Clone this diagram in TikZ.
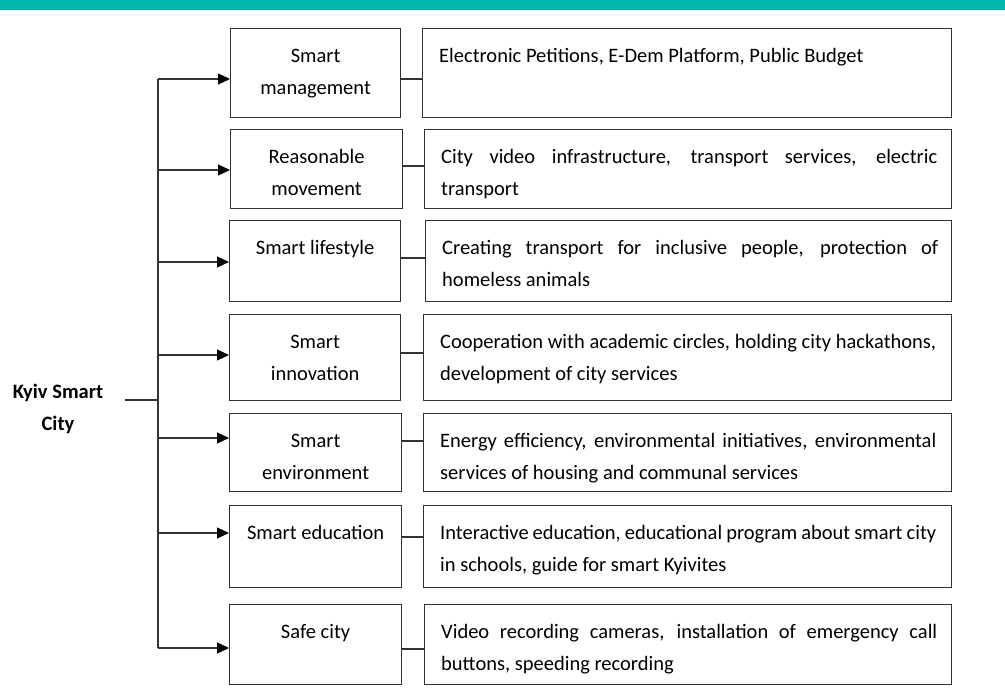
\documentclass[tikz,border=0pt]{standalone}
\usepackage{fontspec}
\setmainfont{Carlito}
\usetikzlibrary{arrows.meta,calc}
\definecolor{bar}{HTML}{00B8AC}
\definecolor{ln}{HTML}{333333}
\begin{document}
\begin{tikzpicture}[x=1pt,y=-1pt,
  box/.style={draw=ln, line width=1.2pt, inner sep=0pt, anchor=north west},
  ltxt/.style={anchor=north, inner sep=0pt, yshift=-12pt, align=center, font=\fontsize{20.5}{32}\selectfont},
  rtxt/.style={anchor=north west, inner sep=0pt, xshift=17pt, yshift=-12pt, text width=496pt, align=justify, font=\fontsize{20.5}{32}\selectfont},
  arr/.style={draw=ln, line width=1.2pt, -{Triangle[length=12pt,width=11pt,color=black]}},
  conn/.style={draw=ln, line width=1.2pt}]
\useasboundingbox (0,0) rectangle (1005,698);
\fill[bar] (0,0) rectangle (1005,10);
% left boxes
\node[box, minimum width=170pt, minimum height=89pt] (l1) at (230,28) {};
\node[box, minimum width=172pt, minimum height=79pt] (l2) at (230,129) {};
\node[box, minimum width=171pt, minimum height=81pt] (l3) at (229,220) {};
\node[box, minimum width=171pt, minimum height=86pt] (l4) at (229,314) {};
\node[box, minimum width=172pt, minimum height=78pt] (l5) at (229,413) {};
\node[box, minimum width=172pt, minimum height=82pt] (l6) at (229,505) {};
\node[box, minimum width=172pt, minimum height=80pt] (l7) at (229,604) {};
% right boxes
\node[box, minimum width=529pt, minimum height=89pt] (r1) at (422,28) {};
\node[box, minimum width=527pt, minimum height=79pt] (r2) at (424,129) {};
\node[box, minimum width=526pt, minimum height=81pt] (r3) at (425,220) {};
\node[box, minimum width=528pt, minimum height=86pt] (r4) at (423,314) {};
\node[box, minimum width=528pt, minimum height=78pt] (r5) at (423,413) {};
\node[box, minimum width=528pt, minimum height=82pt] (r6) at (423,505) {};
\node[box, minimum width=527pt, minimum height=80pt] (r7) at (424,604) {};
% left texts
\node[ltxt] (t1) at (l1.north) {\strut Smart\\management};
\node[ltxt] (t2) at (l2.north) {\strut Reasonable\\movement};
\node[ltxt] (t3) at (l3.north) {\strut Smart lifestyle};
\node[ltxt] (t4) at (l4.north) {\strut Smart\\innovation};
\node[ltxt] (t5) at (l5.north) {\strut Smart\\environment};
\node[ltxt] (t6) at (l6.north) {\strut Smart education};
\node[ltxt] (t7) at (l7.north) {\strut Safe city};
% right texts
\node[rtxt] (u1) at (r1.north west) {\strut Electronic Petitions, E-Dem Platform, Public Budget};
\node[rtxt] (u2) at (r2.north west) {\strut City video infrastructure, transport services, electric\linebreak transport};
\node[rtxt] (u3) at (r3.north west) {\strut Creating transport for inclusive people, protection of\linebreak homeless animals};
\node[rtxt] (u4) at (r4.north west) {\strut Cooperation with academic circles, holding city hackathons,\linebreak development of city services};
\node[rtxt] (u5) at (r5.north west) {\strut Energy efficiency, environmental initiatives, environmental\linebreak services of housing and communal services};
\node[rtxt] (u6) at (r6.north west) {\strut Interactive education, educational program about smart city\linebreak in schools, guide for smart Kyivites};
\node[rtxt] (u7) at (r7.north west) {\strut Video recording cameras, installation of emergency call\linebreak buttons, speeding recording};
% root
\node[align=center, inner sep=0pt, font=\fontsize{20.5}{32}\selectfont\bfseries] (k) at (58,409) {Kyiv Smart\\City};
\coordinate (ks) at (125,400);
\coordinate (kj) at (158,400);
\coordinate (a1) at (158,79);
\coordinate (a2) at (158,170);
\coordinate (a3) at (158,262);
\coordinate (a4) at (158,355);
\coordinate (a5) at (158,438);
\coordinate (a6) at (158,533);
\coordinate (a7) at (158,648);
\draw[conn] (ks) -- (kj);
\draw[conn] (a1) -- (a7);
\foreach \i in {1,...,7} {\draw[arr] (a\i) -- (a\i -| l\i.west);}
% left-right connectors
\coordinate (c1) at (0,79);
\coordinate (c2) at (0,166);
\coordinate (c3) at (0,258);
\coordinate (c4) at (0,353);
\coordinate (c5) at (0,441);
\coordinate (c6) at (0,537);
\coordinate (c7) at (0,649);
\foreach \i in {1,...,7} {\draw[conn] (l\i.east |- c\i) -- (r\i.west |- c\i);}
\end{tikzpicture}
\end{document}
